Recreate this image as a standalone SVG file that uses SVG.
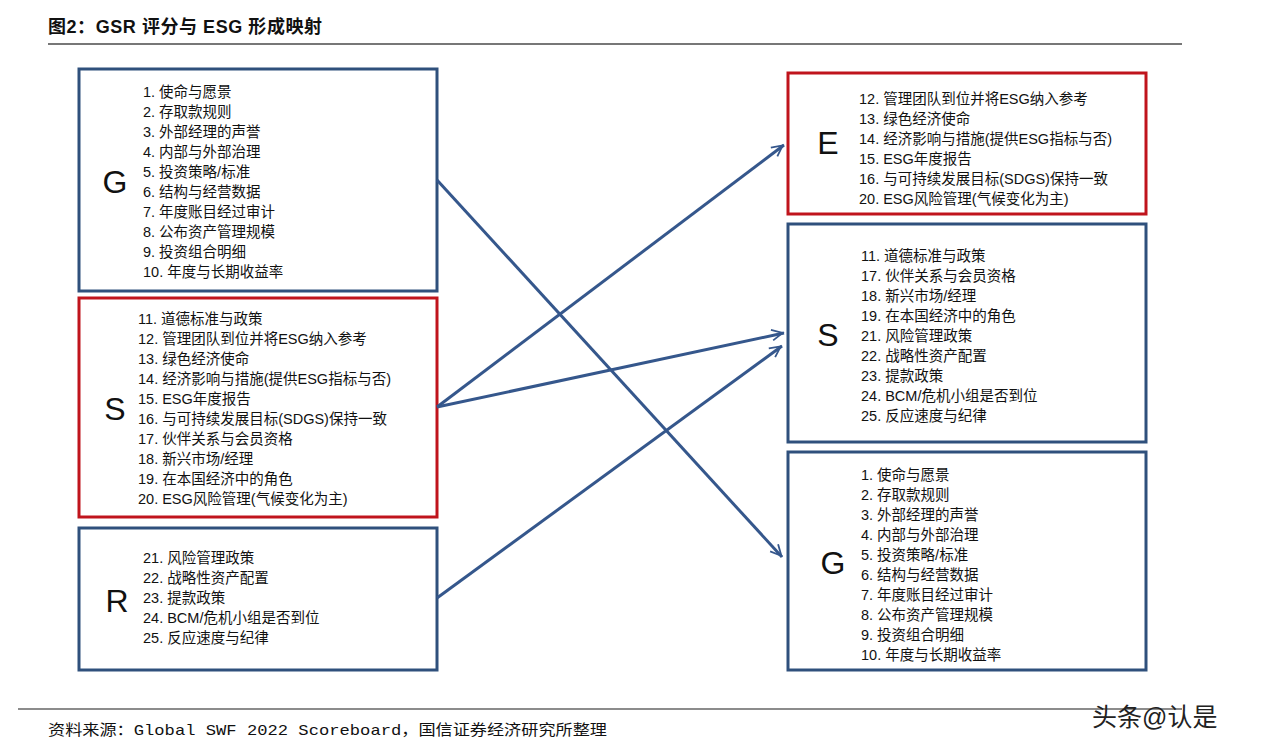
<svg xmlns="http://www.w3.org/2000/svg" width="1284" height="756" viewBox="0 0 1284 756">
<style>
text{font-family:"Liberation Sans","Noto Sans CJK SC",sans-serif;fill:#111}
.l{font-size:14.5px}
.big{font-size:32px;text-anchor:middle;dominant-baseline:central}
.bb{fill:#fff;stroke:#2f507c;stroke-width:3}
.rb{fill:#fff;stroke:#c0141c;stroke-width:3}
.c line{stroke:#35578c;stroke-width:3;marker-end:url(#a)}
</style>
<defs><marker id="a" viewBox="0 0 12 12" refX="11" refY="6" markerWidth="8" markerHeight="8" markerUnits="userSpaceOnUse" orient="auto" overflow="visible"><path d="M-8,-3 L10,6 L-8,15" fill="none" stroke="#35578c" stroke-width="3" transform="scale(0.9)"/></marker></defs>
<rect width="1284" height="756" fill="#fff"/>
<text x="48" y="33" textLength="274" style="font-size:18px;font-weight:bold">图2：GSR 评分与 ESG 形成映射</text>
<line x1="48" y1="44" x2="1182" y2="44" stroke="#777" stroke-width="2"/>
<g id="lg"><rect class="bb" x="79" y="69" width="358" height="222"/><text class="big" x="115" y="182">G</text>
<text class="l" x="143"><tspan x="143" y="97">1. 使命与愿景</tspan><tspan x="143" y="117">2. 存取款规则</tspan><tspan x="143" y="137">3. 外部经理的声誉</tspan><tspan x="143" y="157">4. 内部与外部治理</tspan><tspan x="143" y="177">5. 投资策略/标准</tspan><tspan x="143" y="197">6. 结构与经营数据</tspan><tspan x="143" y="217">7. 年度账目经过审计</tspan><tspan x="143" y="237">8. 公布资产管理规模</tspan><tspan x="143" y="257">9. 投资组合明细</tspan><tspan x="143" y="277">10. 年度与长期收益率</tspan></text></g>
<g id="ls"><rect class="rb" x="79" y="298" width="358" height="219"/><text class="big" x="115" y="409">S</text>
<text class="l"><tspan x="138" y="324">11. 道德标准与政策</tspan><tspan x="138" y="344">12. 管理团队到位并将ESG纳入参考</tspan><tspan x="138" y="364">13. 绿色经济使命</tspan><tspan x="138" y="384">14. 经济影响与措施(提供ESG指标与否)</tspan><tspan x="138" y="404">15. ESG年度报告</tspan><tspan x="138" y="424">16. 与可持续发展目标(SDGS)保持一致</tspan><tspan x="138" y="444">17. 伙伴关系与会员资格</tspan><tspan x="138" y="464">18. 新兴市场/经理</tspan><tspan x="138" y="484">19. 在本国经济中的角色</tspan><tspan x="138" y="504">20. ESG风险管理(气候变化为主)</tspan></text></g>
<g id="lr"><rect class="bb" x="79" y="528" width="358" height="142"/><text class="big" x="117" y="601">R</text>
<text class="l"><tspan x="143" y="563">21. 风险管理政策</tspan><tspan x="143" y="583">22. 战略性资产配置</tspan><tspan x="143" y="603">23. 提款政策</tspan><tspan x="143" y="623">24. BCM/危机小组是否到位</tspan><tspan x="143" y="643">25. 反应速度与纪律</tspan></text></g>
<g id="re"><rect class="rb" x="788" y="73" width="358" height="141"/><text class="big" x="828" y="143">E</text>
<text class="l"><tspan x="859" y="104">12. 管理团队到位并将ESG纳入参考</tspan><tspan x="859" y="124">13. 绿色经济使命</tspan><tspan x="859" y="144">14. 经济影响与措施(提供ESG指标与否)</tspan><tspan x="859" y="164">15. ESG年度报告</tspan><tspan x="859" y="184">16. 与可持续发展目标(SDGS)保持一致</tspan><tspan x="859" y="204">20. ESG风险管理(气候变化为主)</tspan></text></g>
<g id="rs"><rect class="bb" x="788" y="224" width="358" height="218"/><text class="big" x="828" y="335">S</text>
<text class="l"><tspan x="861" y="261">11. 道德标准与政策</tspan><tspan x="861" y="281">17. 伙伴关系与会员资格</tspan><tspan x="861" y="301">18. 新兴市场/经理</tspan><tspan x="861" y="321">19. 在本国经济中的角色</tspan><tspan x="861" y="341">21. 风险管理政策</tspan><tspan x="861" y="361">22. 战略性资产配置</tspan><tspan x="861" y="381">23. 提款政策</tspan><tspan x="861" y="401">24. BCM/危机小组是否到位</tspan><tspan x="861" y="421">25. 反应速度与纪律</tspan></text></g>
<g id="rg"><rect class="bb" x="788" y="452" width="358" height="218"/><text class="big" x="833" y="563">G</text>
<text class="l"><tspan x="861" y="480">1. 使命与愿景</tspan><tspan x="861" y="500">2. 存取款规则</tspan><tspan x="861" y="520">3. 外部经理的声誉</tspan><tspan x="861" y="540">4. 内部与外部治理</tspan><tspan x="861" y="560">5. 投资策略/标准</tspan><tspan x="861" y="580">6. 结构与经营数据</tspan><tspan x="861" y="600">7. 年度账目经过审计</tspan><tspan x="861" y="620">8. 公布资产管理规模</tspan><tspan x="861" y="640">9. 投资组合明细</tspan><tspan x="861" y="660">10. 年度与长期收益率</tspan></text></g>
<g id="connectors" class="c">
<line x1="437" y1="180" x2="782" y2="557"/>
<line x1="437" y1="407" x2="784" y2="145"/>
<line x1="437" y1="407" x2="784" y2="333"/>
<line x1="437" y1="598" x2="782" y2="346"/>
</g>
<line x1="18" y1="709" x2="1182" y2="709" stroke="#666" stroke-width="1.5"/>
<text x="48" y="735" textLength="559" lengthAdjust="spacingAndGlyphs" style="font-size:15px;font-family:'Liberation Mono','Noto Sans CJK SC',monospace">资料来源：Global SWF 2022 Scoreboard，国信证券经济研究所整理</text>
<text x="1092" y="726" style="font-size:25px;fill:#222">头条@认是</text>
</svg>
